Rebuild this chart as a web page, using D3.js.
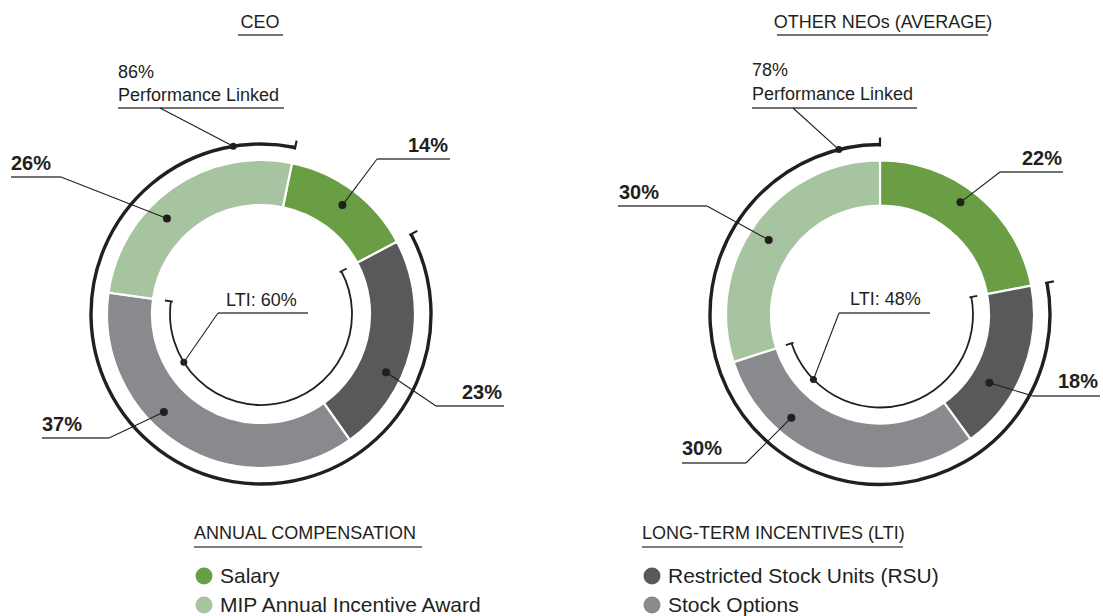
<!DOCTYPE html>
<html>
<head>
<meta charset="utf-8">
<script src="https://cdn.jsdelivr.net/npm/d3@7"></script>
<style>
  body { margin: 0; background: #fff; }
  svg { display: block; font-family: "Helvetica Neue", Helvetica, Arial, "Liberation Sans", sans-serif; }
</style>
</head>
<body>
<div id="chart"></div>
<script>
// data
var sliceKeys = ["Salary", "RSU", "Stock Options", "MIP"]; // clockwise order
var sliceColors = ["#6a9e45", "#58595b", "#898a8e", "#a7c4a0"];
var ceoValues = [14, 23, 37, 26];
var neoValues = [22, 18, 30, 30];
var perfLinked = [86, 78];
var ltiShare = [60, 48];
var chartTitles = ["CEO", "OTHER NEOs (AVERAGE)"];

var legendTitles = ["ANNUAL COMPENSATION", "LONG-TERM INCENTIVES (LTI)"];
var legendAnnual = ["Salary", "MIP Annual Incentive Award"];
var legendLti = ["Restricted Stock Units (RSU)", "Stock Options"];

var svg = d3.select("#chart").append("svg")
  .attr("width", 1103)
  .attr("height", 616);

var ink = "#231f20";
var color = d3.scaleOrdinal().domain(sliceKeys).range(sliceColors);

// layout for the two donuts (label spots, pointer position inside each slice)
var charts = [
  {
    values: ceoValues, perf: perfLinked[0], lti: ltiShare[0], title: chartTitles[0],
    cx: 261, cy: 314, rot: 11.6, titleX: 260, ultitle: [238, 283],
    labels: [
      { x: 408, y: 152, u: [377, 450], uy: 159, ex: 377, f: 0.5, r: 136 },
      { x: 462, y: 399, u: [436, 504], uy: 406, ex: 436, f: 0.64, r: 138 },
      { x: 42, y: 431, u: [42, 109], uy: 438, ex: 109, f: 0.6, r: 138 },
      { x: 11, y: 170, u: [11, 61], uy: 177, ex: 61, f: 0.4, r: 134 }
    ],
    perfLabel: { x: 118, y1: 78, y2: 101, u: [118, 284], uy: 108, ex: 160, a: 350.6 },
    ltiLabel: { x: 226, y: 306, u: [218, 308], uy: 313, ex: 218, a: 238 },
    innerR: 91
  },
  {
    values: neoValues, perf: perfLinked[1], lti: ltiShare[1], title: chartTitles[1],
    cx: 880, cy: 314.5, rot: 0, titleX: 883, ultitle: [777, 988],
    labels: [
      { x: 1022, y: 165, u: [1000, 1063], uy: 172, ex: 1000, f: 0.45, r: 138 },
      { x: 1058, y: 388, u: [1033, 1100], uy: 396, ex: 1033, f: 0.66, r: 129 },
      { x: 682, y: 455, u: [682, 746], uy: 463, ex: 746, f: 0.71, r: 136 },
      { x: 619, y: 199, u: [618, 707], uy: 206, ex: 707, f: 0.48, r: 134 }
    ],
    perfLabel: { x: 752, y1: 76, y2: 100, u: [752, 917], uy: 108, ex: 793, a: 346 },
    ltiLabel: { x: 850, y: 305, u: [839, 930], uy: 313, ex: 839, a: 225.7 },
    innerR: 93
  }
];

var rIn = 109, rOut = 154, rPerf = 170;
var toRad = Math.PI / 180;

function pt(c, angle, r) {
  return [c.cx + r * Math.sin(angle), c.cy - r * Math.cos(angle)];
}

function arcLine(c, a0, a1, r) {
  var p = d3.path();
  p.arc(c.cx, c.cy, r, a0 - Math.PI / 2, a1 - Math.PI / 2, false);
  return p.toString();
}

charts.forEach(function (c) {
  var g = svg.append("g");
  var start = c.rot * toRad;
  var angle = d3.scaleLinear().domain([0, 100]).range([start, start + 2 * Math.PI]);

  var pie = d3.pie().sort(null).value(function (d) { return d.v; })
    .startAngle(start).endAngle(start + 2 * Math.PI);
  var slices = pie(c.values.map(function (v, i) { return { k: sliceKeys[i], v: v }; }));

  var arc = d3.arc().innerRadius(rIn).outerRadius(rOut);
  g.append("g")
    .attr("transform", "translate(" + c.cx + "," + c.cy + ")")
    .selectAll("path")
    .data(slices)
    .enter()
    .append("path")
    .attr("d", arc)
    .attr("fill", function (d) { return color(d.data.k); })
    .attr("stroke", "#fff")
    .attr("stroke-width", 2.2);

  // performance linked outer arc
  var pA0 = angle(100 - c.perf), pA1 = angle(100);
  g.append("path").attr("d", arcLine(c, pA0, pA1, rPerf))
    .attr("fill", "none").attr("stroke", ink).attr("stroke-width", 3.4);
  [pA0, pA1].forEach(function (a) {
    var p0 = pt(c, a, rPerf - 2), p1 = pt(c, a, rPerf + 7);
    g.append("line").attr("x1", p0[0]).attr("y1", p0[1]).attr("x2", p1[0]).attr("y2", p1[1])
      .attr("stroke", ink).attr("stroke-width", 2.2);
  });

  // LTI inner arc
  var lA0 = angle(c.values[0]), lA1 = angle(c.values[0] + c.lti);
  g.append("path").attr("d", arcLine(c, lA0, lA1, c.innerR))
    .attr("fill", "none").attr("stroke", ink).attr("stroke-width", 1.8);
  [lA0, lA1].forEach(function (a) {
    var p0 = pt(c, a, c.innerR - 2), p1 = pt(c, a, c.innerR + 6);
    g.append("line").attr("x1", p0[0]).attr("y1", p0[1]).attr("x2", p1[0]).attr("y2", p1[1])
      .attr("stroke", ink).attr("stroke-width", 1.8);
  });

  // title
  g.append("text").attr("x", c.titleX).attr("y", 28).attr("text-anchor", "middle")
    .attr("font-size", 18).attr("fill", ink).text(c.title);
  g.append("line").attr("x1", c.ultitle[0]).attr("x2", c.ultitle[1]).attr("y1", 35).attr("y2", 35)
    .attr("stroke", "#444").attr("stroke-width", 1.5);

  // slice labels
  slices.forEach(function (s, i) {
    var L = c.labels[i];
    var a = s.startAngle + (s.endAngle - s.startAngle) * L.f;
    var d = pt(c, a, L.r);
    g.append("line").attr("x1", L.u[0]).attr("x2", L.u[1]).attr("y1", L.uy).attr("y2", L.uy)
      .attr("stroke", "#444").attr("stroke-width", 1.4);
    g.append("line").attr("x1", L.ex).attr("y1", L.uy).attr("x2", d[0]).attr("y2", d[1])
      .attr("stroke", ink).attr("stroke-width", 1.1);
    g.append("circle").attr("cx", d[0]).attr("cy", d[1]).attr("r", 4).attr("fill", ink);
    g.append("text").attr("x", L.x).attr("y", L.y).attr("font-size", 20)
      .attr("font-weight", "bold").attr("fill", ink).text(s.data.v + "%");
  });

  // performance linked label
  var P = c.perfLabel;
  var pd = pt(c, P.a * toRad, rPerf);
  g.append("text").attr("x", P.x).attr("y", P.y1).attr("font-size", 18).attr("fill", ink).text(c.perf + "%");
  g.append("text").attr("x", P.x).attr("y", P.y2).attr("font-size", 18).attr("fill", ink).text("Performance Linked");
  g.append("line").attr("x1", P.u[0]).attr("x2", P.u[1]).attr("y1", P.uy).attr("y2", P.uy)
    .attr("stroke", "#444").attr("stroke-width", 1.4);
  g.append("line").attr("x1", P.ex).attr("y1", P.uy).attr("x2", pd[0]).attr("y2", pd[1])
    .attr("stroke", ink).attr("stroke-width", 1.1);
  g.append("circle").attr("cx", pd[0]).attr("cy", pd[1]).attr("r", 3.5).attr("fill", ink);

  // LTI label
  var T = c.ltiLabel;
  var td = pt(c, T.a * toRad, c.innerR);
  g.append("text").attr("x", T.x).attr("y", T.y).attr("font-size", 18).attr("fill", ink).text("LTI: " + c.lti + "%");
  g.append("line").attr("x1", T.u[0]).attr("x2", T.u[1]).attr("y1", T.uy).attr("y2", T.uy)
    .attr("stroke", "#444").attr("stroke-width", 1.4);
  g.append("line").attr("x1", T.ex).attr("y1", T.uy).attr("x2", td[0]).attr("y2", td[1])
    .attr("stroke", ink).attr("stroke-width", 1.1);
  g.append("circle").attr("cx", td[0]).attr("cy", td[1]).attr("r", 3.5).attr("fill", ink);
});

// legends
var legends = [
  { x: 194, u: [194, 422], items: legendAnnual, keys: ["Salary", "MIP"], title: legendTitles[0] },
  { x: 642, u: [642, 903], items: legendLti, keys: ["RSU", "Stock Options"], title: legendTitles[1] }
];

legends.forEach(function (l) {
  var g = svg.append("g");
  g.append("text").attr("x", l.x).attr("y", 539).attr("font-size", 18).attr("fill", ink).text(l.title);
  g.append("line").attr("x1", l.u[0]).attr("x2", l.u[1]).attr("y1", 547).attr("y2", 547)
    .attr("stroke", "#555").attr("stroke-width", 1.5);
  var row = g.selectAll("g.item")
    .data(l.items)
    .enter()
    .append("g")
    .attr("class", "item")
    .attr("transform", function (d, i) { return "translate(" + (l.x + 10) + "," + (576 + i * 29) + ")"; });
  row.append("circle").attr("r", 8.5).attr("fill", function (d, i) { return color(l.keys[i]); });
  row.append("text").attr("x", 16).attr("y", 7).attr("font-size", 21).attr("fill", ink)
    .text(function (d) { return d; });
});
</script>
</body>
</html>
